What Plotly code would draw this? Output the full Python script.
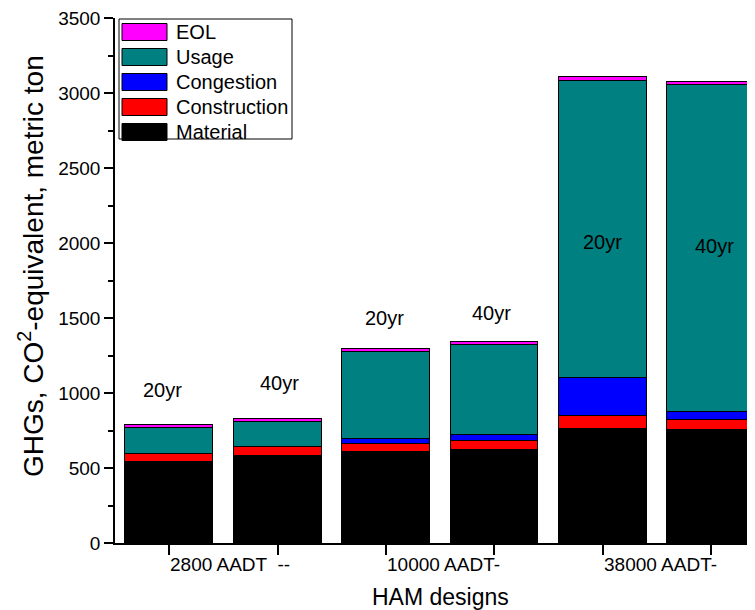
import plotly.graph_objects as go

# ---- data ----
positions = [1, 2, 3, 4, 5, 6]
material = [542, 582, 607, 622, 758, 753]
construction = [49, 55, 51, 58, 89, 67]
congestion = [3, 5, 35, 40, 251, 51]
usage = [172, 163, 583, 602, 1984, 2182]
eol = [20, 19, 17, 20, 22, 20]

series_names = ["Material", "Construction", "Congestion", "Usage", "EOL"]
series_colors = ["#000000", "#FF0000", "#0000FF", "#008080", "#FF00FF"]

period_labels = ["20yr", "40yr", "20yr", "40yr", "20yr", "40yr"]
period_label_x = [0.94, 2.02, 2.99, 3.97, 5.0, 6.03]
period_label_y = [1020, 1067, 1500, 1533, 2009, 1982]

group_labels = ["2800 AADT  --", "10000 AADT-", "38000 AADT-"]
group_label_x = [1, 3, 5]

y_ticks = [0, 500, 1000, 1500, 2000, 2500, 3000, 3500]

FONT = "Liberation Sans, Arial, sans-serif"

# page body has an 8px margin: plot area in page pixels is x 115..755, y 18..543
OFF = 8
L, T, W, H = 115.0, 18.0, 640.0, 525.0

fig = go.Figure()
for name, color, vals in zip(series_names, series_colors,
                             [material, construction, congestion, usage, eol]):
    fig.add_trace(go.Bar(
        x=positions, y=vals, name=name, width=0.81,
        marker=dict(color=color, line=dict(color="#000000", width=1.2)),
        showlegend=False,
    ))

def px(xp):
    return (xp - L) / W
def py(yp):
    return (T + H - yp) / H

annotations = []
for t, xv, yv in zip(period_labels, period_label_x, period_label_y):
    annotations.append(dict(x=xv, y=yv, xref="x", yref="y", text=t,
                            showarrow=False, font=dict(size=20, color="#000", family=FONT)))
for t, xv in zip(group_labels, group_label_x):
    annotations.append(dict(x=xv, y=py(564), xref="x", yref="paper", text=t,
                            xanchor="left", yanchor="middle", showarrow=False, xshift=-1,
                            font=dict(size=19, color="#000", family=FONT)))
annotations.append(dict(x=px(440), y=py(597), xref="paper", yref="paper", text="HAM designs",
                        showarrow=False, xanchor="center", yanchor="middle",
                        font=dict(size=23, color="#000", family=FONT)))
annotations.append(dict(x=px(31), y=py(266), xref="paper", yref="paper",
                        text="GHGs, CO<sup>2</sup>-equivalent, metric ton", textangle=-90,
                        showarrow=False, xanchor="center", yanchor="middle",
                        font=dict(size=28, color="#000", family=FONT)))

# custom legend (top to bottom: reverse stacking order)
shapes = [dict(type="rect", xref="paper", yref="paper", x0=px(119), x1=px(292),
               y0=py(139), y1=py(19), line=dict(color="#000", width=1), fillcolor="white",
               layer="above")]
for i, (name, color) in enumerate(zip(series_names[::-1], series_colors[::-1])):
    cy = 32 + 25 * i
    shapes.append(dict(type="rect", xref="paper", yref="paper", x0=px(122), x1=px(167),
                       y0=py(cy + 8.5), y1=py(cy - 8.5), fillcolor=color,
                       line=dict(color="#000", width=1), layer="above"))
    annotations.append(dict(x=px(174), y=py(cy), xref="paper", yref="paper", text=name,
                            xanchor="left", yanchor="middle", showarrow=False,
                            font=dict(size=20, color="#000", family=FONT)))

fig.update_layout(
    width=755, height=610,
    margin=dict(l=L - OFF, r=OFF, t=T - OFF, b=610 - (T + H - OFF)),
    paper_bgcolor="white", plot_bgcolor="white",
    barmode="stack", bargap=0,
    font=dict(family=FONT, size=18, color="#000"),
    annotations=annotations, shapes=shapes,
    xaxis=dict(range=[0.5, 0.5 + W / 108.4], tickvals=positions, showticklabels=False,
               ticks="outside", ticklen=10, tickwidth=1.5, tickcolor="#000", automargin=False,
               showline=True, linecolor="#000", linewidth=1.5, showgrid=False, zeroline=False),
    yaxis=dict(range=[0, 3500], tickvals=y_ticks, ticks="outside", ticklen=9, tickwidth=1.5,
               tickcolor="#000", showline=True, linecolor="#000", linewidth=1.5,
               showgrid=False, zeroline=False, tickfont=dict(size=19, family=FONT),
               ticklabeloverflow="allow", automargin=False,
               minor=dict(dtick=250, ticks="outside", ticklen=5, tickwidth=1.5, tickcolor="#000")),
)

fig.write_html("out.html")
